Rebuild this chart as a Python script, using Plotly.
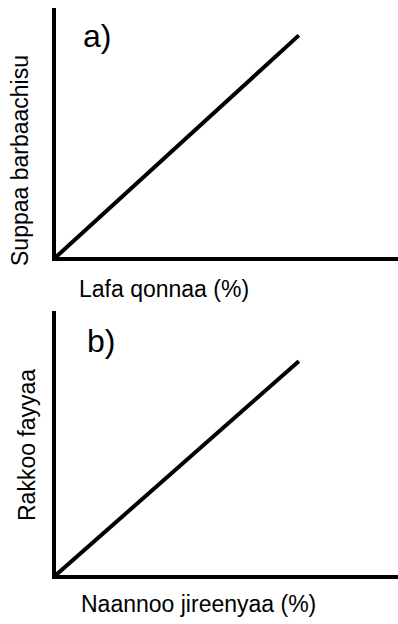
import plotly.graph_objects as go

# panel a) - suppaa vs lafa qonnaa
x_a = [0, 71]
y_a = [0, 89]
# panel b) - rakkoo fayyaa vs naannoo jireenyaa
x_b = [0, 71]
y_b = [0, 81]

panel_tags = ["a)", "b)"]
x_titles = ["Lafa qonnaa (%)", "Naannoo jireenyaa (%)"]
y_titles = ["Suppaa barbaachisu", "Rakkoo fayyaa"]

W, H = 398, 624
FONT = "Liberation Sans, Arial, sans-serif"


def px_x(p):
    # pixel -> paper fraction
    return p / W


def px_y(p):
    return 1 - p / H


fig = go.Figure()
fig.add_trace(go.Scatter(x=x_a, y=y_a, mode="lines", xaxis="x", yaxis="y",
                         line=dict(color="black", width=4), hoverinfo="skip"))
fig.add_trace(go.Scatter(x=x_b, y=y_b, mode="lines", xaxis="x2", yaxis="y2",
                         line=dict(color="black", width=4), hoverinfo="skip"))

ax = dict(range=[0, 100], showgrid=False, zeroline=False, showticklabels=False,
          ticks="", showline=True, linecolor="black", linewidth=4, fixedrange=True)

fig.update_layout(
    width=W, height=H,
    margin=dict(l=0, r=0, t=0, b=0),
    paper_bgcolor="white", plot_bgcolor="white",
    showlegend=False,
    font=dict(family=FONT, color="black"),
    xaxis=dict(ax, domain=[px_x(56), 1], anchor="y"),
    yaxis=dict(ax, domain=[px_y(257), px_y(8)], anchor="x"),
    xaxis2=dict(ax, domain=[px_x(56), 1], anchor="y2"),
    yaxis2=dict(ax, domain=[px_y(575), px_y(311)], anchor="x2"),
)

# labels placed in paper space
labels = [
    (panel_tags[0], 97, 36, 0, 32),
    (panel_tags[1], 101, 341, 0, 32),
    (x_titles[0], 164, 289, 0, 23),
    (x_titles[1], 198, 604, 0, 23),
    (y_titles[0], 20, 161, -90, 23),
    (y_titles[1], 27, 445, -90, 23),
]
for txt, lx, ly, rot, sz in labels:
    fig.add_annotation(x=px_x(lx), y=px_y(ly), xref="paper", yref="paper",
                       text=txt, showarrow=False, textangle=rot,
                       xanchor="center", yanchor="middle",
                       font=dict(size=sz, family=FONT, color="black"))

# drop the default 8px body margin so the figure fills the window
fig.write_html("out.html", config={"displayModeBar": False},
               post_script="document.body.style.margin='0';")
